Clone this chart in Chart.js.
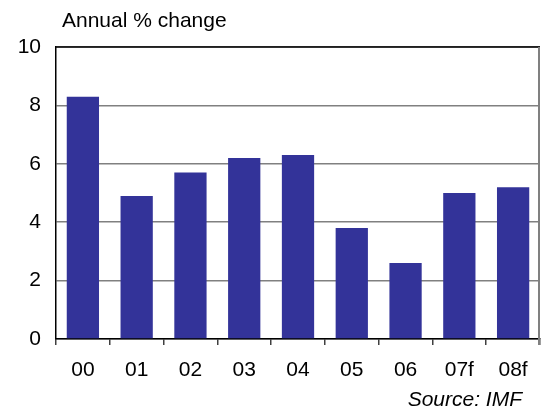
<!DOCTYPE html>
<html>
<head>
<meta charset="utf-8">
<script src="https://cdn.jsdelivr.net/npm/chart.js@4"></script>
<style>
  html, body { margin: 0; padding: 0; background: #fff; }
  #wrap { width: 544px; height: 410px; }
</style>
</head>
<body>
<div id="wrap"><canvas id="growthChart" width="544" height="410"></canvas></div>
<script>
// data
const categories = ['00', '01', '02', '03', '04', '05', '06', '07f', '08f'];
const growthValues = [8.3, 4.9, 5.7, 6.2, 6.3, 3.8, 2.6, 5.0, 5.2];
const yTickValues = [0, 2, 4, 6, 8, 10];
const titleText = 'Annual % change';
const sourceText = 'Source: IMF';

const fontFamily = '"Liberation Sans", Arial, sans-serif';

// frame (top black, right grey) and the texts
const framePlugin = {
    id: 'frame',
    afterDraw(chart) {
        const { ctx, chartArea } = chart;
        ctx.save();
        ctx.strokeStyle = '#000';
        ctx.lineWidth = 1.5;
        ctx.beginPath();
        ctx.moveTo(chartArea.left, chartArea.top);
        ctx.lineTo(chartArea.right, chartArea.top);
        ctx.stroke();

        ctx.strokeStyle = '#808080';
        ctx.lineWidth = 2;
        ctx.beginPath();
        ctx.moveTo(chartArea.right - 1, chartArea.top);
        ctx.lineTo(chartArea.right - 1, chartArea.bottom + 6);
        ctx.stroke();

        ctx.fillStyle = '#000';
        ctx.font = '21px ' + fontFamily;
        ctx.textAlign = 'left';
        ctx.textBaseline = 'alphabetic';
        ctx.fillText(titleText, 62, 27);

        ctx.font = 'italic 21px ' + fontFamily;
        ctx.textAlign = 'right';
        ctx.fillText(sourceText, 522, 406);
        ctx.restore();
    }
};

new Chart(document.getElementById('growthChart'), {
    type: 'bar',
    data: {
        labels: categories,
        datasets: [{
            data: growthValues,
            backgroundColor: '#333399',
            borderWidth: 0,
            barPercentage: 0.6,
            categoryPercentage: 1.0
        }]
    },
    options: {
        responsive: false,
        animation: false,
        layout: { padding: { top: 47, right: 4, left: 0, bottom: 0 } },
        plugins: {
            legend: { display: false },
            title: { display: false },
            tooltip: { enabled: false }
        },
        scales: {
            y: {
                min: 0,
                max: 10,
                afterBuildTicks(scale) {
                    scale.ticks = yTickValues.map(v => ({ value: v }));
                },
                afterFit(scale) { scale.width = 56; },
                ticks: {
                    color: '#000',
                    padding: 15,
                    font: { family: fontFamily, size: 21 }
                },
                grid: { color: '#808080', lineWidth: 1.5, drawTicks: false },
                border: { color: '#000', width: 1.5 }
            },
            x: {
                offset: true,
                afterFit(scale) { scale.height = 71; },
                ticks: {
                    color: '#000',
                    padding: 13,
                    maxRotation: 0,
                    font: { family: fontFamily, size: 21 }
                },
                grid: {
                    offset: true,
                    drawOnChartArea: false,
                    drawTicks: true,
                    tickLength: 6,
                    color: '#404040',
                    lineWidth: 1.5
                },
                border: { color: '#000', width: 1.5 }
            }
        }
    },
    plugins: [framePlugin]
});
</script>
</body>
</html>
